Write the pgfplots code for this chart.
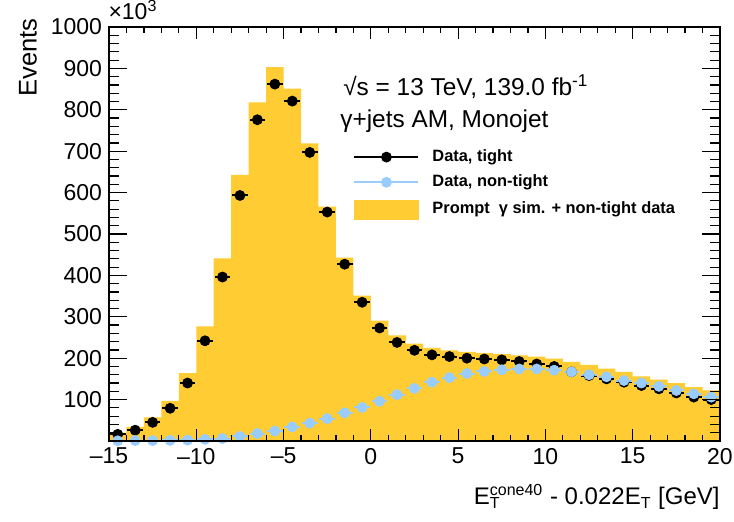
\documentclass[border=0pt]{standalone}
\usepackage{fontspec}
\setmainfont{Liberation Sans}
\usepackage{pgfplots}
\pgfplotsset{compat=1.18}
\definecolor{atyellow}{RGB}{255,204,51}
\definecolor{atblue}{RGB}{153,204,255}

\pgfplotstableread{
x y
-15 20
-14 34
-13 57
-12 97
-11 164
-10 277
-9 441
-8 643
-7 818
-6 903
-5 851
-4 719
-3 566
-2 443
-1 351
0 291
1 255
2 235
3 225
4 219
5 215
6 212
7 210
8 207
9 204
10 199
11 191
12 184
13 175
14 167
15 156
16 148
17 140
18 130
19 122
20 122
}\promptdata

\pgfplotstableread{
x y
-14.5 16
-13.5 26
-12.5 45
-11.5 79
-10.5 140
-9.5 242
-8.5 396
-7.5 593
-6.5 776
-5.5 862
-4.5 821
-3.5 697
-2.5 553
-1.5 427
-0.5 335
0.5 273
1.5 238
2.5 219
3.5 208
4.5 204
5.5 200
6.5 198
7.5 196
8.5 192
9.5 186
10.5 180
11.5 167
12.5 158
13.5 150
14.5 142
15.5 134
16.5 126
17.5 116
18.5 106
19.5 100
}\tightdata

\pgfplotstableread{
x y
-14.5 0.5
-13.5 1
-12.5 1
-11.5 1.5
-10.5 2
-9.5 4
-8.5 6
-7.5 11
-6.5 18
-5.5 24
-4.5 34
-3.5 43
-2.5 54
-1.5 68
-0.5 81
0.5 96
1.5 112
2.5 127
3.5 142
4.5 153
5.5 163
6.5 168
7.5 172
8.5 174
9.5 174
10.5 171
11.5 167
12.5 160
13.5 155
14.5 146
15.5 140
16.5 132
17.5 122
18.5 114
19.5 106
}\nontightdata

\begin{document}
\begin{tikzpicture}
\pgfplotsset{
  common/.style={
    at={(0,0)}, anchor=south west,
    scale only axis, width=305.5pt, height=207pt,
    xmin=-15, xmax=20, ymin=0, ymax=1000,
    tick align=inside,
    axis line style={line width=0.6pt},
    every tick/.style={black, line width=0.6pt},
    clip=false,
  }
}
\begin{axis}[common,
  axis on top,
  xtick={-15,-10,...,20},
  xticklabels={–15,–10,–5,0,5,10,15,20},
  minor x tick num=4,
  xtick pos=both,
  ytick=\empty,
  major tick length=6pt, minor tick length=3pt,
  xticklabel style={font=\fontsize{11.5}{12}\selectfont},
  legend style={at={(axis cs:-1.02,706)}, anchor=north west,
    draw=none, fill=none, inner sep=0pt, row sep=4.6pt, column sep=6.5pt,
    font=\bfseries\fontsize{8.2}{9.8}\selectfont,
    nodes={inner sep=0pt, text height=6.2pt, text depth=1.8pt}},
  legend cell align=left,
]
\addplot[const plot, fill=atyellow, draw=none, forget plot] table[x=x,y=y] {\promptdata} \closedcycle;
\addplot[only marks, mark=*, mark size=2.5pt, black, forget plot,
  error bars/.cd, x dir=both, x fixed=0.45, error mark=none,
  error bar style={line width=1pt, black}] table[x=x,y=y] {\tightdata};
\addplot[only marks, mark=*, mark size=2.5pt, atblue, mark options={fill=atblue, draw=atblue}, forget plot,
  error bars/.cd, x dir=both, x fixed=0.45, error mark=none,
  error bar style={line width=1pt, atblue}] table[x=x,y=y] {\nontightdata};

\addlegendimage{legend image code/.code={
  \draw[black, line width=1pt] (0pt,0pt) -- (32pt,0pt);
  \fill[black] (16pt,0pt) circle (2.5pt);}}
\addlegendentry{Data, tight}
\addlegendimage{legend image code/.code={
  \draw[atblue, line width=1pt] (0pt,0pt) -- (32pt,0pt);
  \fill[atblue] (16pt,0pt) circle (2.5pt);}}
\addlegendentry{Data, non-tight}
\addlegendimage{legend image code/.code={
  \fill[atyellow] (0pt,-4.75pt) rectangle (32pt,4.75pt);}}
\addlegendentry{Prompt~~γ sim. + non-tight data}
\end{axis}

\begin{axis}[common,
  xtick=\empty,
  ytick={0,100,...,1000},
  yticklabels={,100,200,300,400,500,600,700,800,900,1000},
  minor y tick num=4,
  ytick pos=both,
  major tick length=9pt, minor tick length=5pt,
  yticklabel style={font=\fontsize{11.5}{12}\selectfont},
]
\node[anchor=base west, inner sep=0pt, font=\fontsize{11.5}{12}\selectfont] at (axis cs:-15.05,1017) {×10\textsuperscript{3}};
\node[rotate=90, anchor=east, inner sep=0pt, font=\fontsize{12.8}{13}\selectfont] at (axis cs:-19.64,1022) {Events};
\node[anchor=base east, inner sep=0pt, font=\fontsize{12}{13}\selectfont] at (axis cs:20,-153.5) {E\rlap{\textsubscript{T}}\textsuperscript{cone40} - 0.022E\textsubscript{T} [GeV]};
\node[anchor=base west, inner sep=0pt, font=\fontsize{12.2}{13}\selectfont] at (axis cs:-1.6,835) {√s = 13 TeV, 139.0 fb\textsuperscript{-1}};
\node[anchor=base west, inner sep=0pt, font=\fontsize{12.2}{13}\selectfont] at (axis cs:-1.77,758) {γ+jets AM, Monojet};
\end{axis}
\pgfresetboundingbox
\path (-54.5pt,-40.5pt) rectangle (312.5pt,220.5pt);
\end{tikzpicture}
\end{document}
